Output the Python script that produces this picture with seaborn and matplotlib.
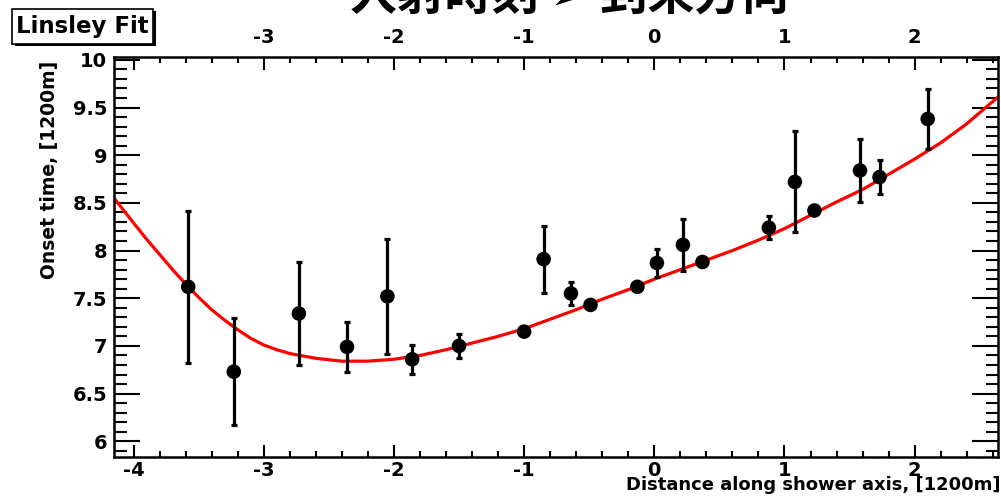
import numpy as np
import pandas as pd
import seaborn as sns
import matplotlib.pyplot as plt
from matplotlib.patches import Rectangle
from matplotlib.ticker import MultipleLocator, FixedLocator

sns.set_style('ticks')
plt.rcParams['font.family'] = ['DejaVu Sans']
plt.rcParams['axes.unicode_minus'] = False
plt.rcParams['text.color'] = 'black'
plt.rcParams['xtick.color'] = 'black'
plt.rcParams['ytick.color'] = 'black'

# measured points: distance along shower axis, onset time, error
dist = [-3.58, -3.23, -2.73, -2.36, -2.05, -1.86, -1.50, -1.00, -0.85, -0.64, -0.49,
        -0.13, 0.02, 0.22, 0.37, 0.88, 1.08, 1.23, 1.58, 1.73, 2.10]
onset = [7.62, 6.73, 7.34, 6.99, 7.52, 6.86, 7.00, 7.15, 7.91, 7.55, 7.43,
         7.62, 7.87, 8.06, 7.88, 8.24, 8.72, 8.42, 8.84, 8.77, 9.38]
err = [0.80, 0.56, 0.54, 0.26, 0.60, 0.15, 0.13, 0.02, 0.35, 0.12, 0.02,
       0.02, 0.15, 0.27, 0.02, 0.12, 0.53, 0.02, 0.33, 0.18, 0.31]

# Linsley fit curve
fit_x = [-4.15, -4.0, -3.9, -3.8, -3.7, -3.6, -3.5, -3.4, -3.3, -3.2, -3.1, -3.0,
         -2.9, -2.8, -2.6, -2.4, -2.2, -2.0, -1.8, -1.6, -1.4, -1.2, -1.0, -0.8,
         -0.6, -0.4, -0.2, 0.0, 0.2, 0.4, 0.6, 0.8, 1.0, 1.2, 1.4, 1.6, 1.8, 2.0,
         2.2, 2.4, 2.64]
fit_y = [8.55, 8.29, 8.12, 7.96, 7.80, 7.65, 7.51, 7.38, 7.27, 7.17, 7.08, 7.01,
         6.96, 6.92, 6.87, 6.84, 6.84, 6.86, 6.90, 6.96, 7.03, 7.10, 7.18, 7.28,
         7.38, 7.49, 7.59, 7.70, 7.80, 7.90, 8.00, 8.11, 8.23, 8.37, 8.51, 8.64,
         8.80, 8.96, 9.13, 9.33, 9.61]

top_ticks = [-3, -2, -1, 0, 1, 2]

pts = pd.DataFrame({'dist': dist, 'onset': onset, 'err': err})
fit = pd.DataFrame({'x': fit_x, 'y': fit_y})

W, H = 1001, 503
fig = plt.figure(figsize=(W / 100, H / 100), dpi=100)
ax = fig.add_axes([114 / W, 1 - 457 / H, (998 - 114) / W, (457 - 57) / H])

sns.lineplot(data=fit, x='x', y='y', color='red', lw=2.3, ax=ax, zorder=2)
ax.errorbar(pts['dist'], pts['onset'], yerr=pts['err'], fmt='none', ecolor='black',
            elinewidth=2.3, capsize=2, capthick=2.3, zorder=3)
sns.scatterplot(data=pts, x='dist', y='onset', color='black', s=110,
                edgecolor='none', ax=ax, zorder=4)

ax.set_xlim(-4.15, 2.64)
ax.set_ylim(5.835, 10.03)
ax.set_xlabel('')
ax.set_ylabel('')

fmt = plt.FuncFormatter(lambda v, p: f'{v:g}')
ax.xaxis.set_major_locator(MultipleLocator(1))
ax.xaxis.set_minor_locator(MultipleLocator(0.2))
ax.yaxis.set_major_locator(MultipleLocator(0.5))
ax.yaxis.set_minor_locator(MultipleLocator(0.1))
ax.xaxis.set_major_formatter(fmt)
ax.yaxis.set_major_formatter(fmt)

ax.tick_params(axis='both', which='both', direction='in', width=1.5, color='black',
               labelsize=14)
ax.tick_params(axis='x', which='both', top=True, labeltop=False, bottom=True, labelbottom=True)
ax.tick_params(axis='x', which='major', length=9, pad=3)
ax.tick_params(axis='x', which='minor', length=4.5)
ax.tick_params(axis='y', which='both', left=True, right=True, labelright=False)
ax.tick_params(axis='y', which='major', length=19, pad=5)
ax.tick_params(axis='y', which='minor', length=9)

# labels along the top edge (ticks already drawn by the main axes)
sec = ax.secondary_xaxis('top')
sec.xaxis.set_major_locator(FixedLocator(top_ticks))
sec.xaxis.set_major_formatter(fmt)
sec.tick_params(axis='x', which='major', direction='in', length=0, pad=7, labelsize=14)
sec.spines['top'].set_visible(False)
for lab in sec.get_xticklabels():
    lab.set_fontweight('bold')

for t in ax.xaxis.get_major_ticks() + ax.yaxis.get_major_ticks():
    t.label1.set_fontweight('bold')
for s in ax.spines.values():
    s.set_linewidth(1.8)
    s.set_color('black')

fig.text(50 / W, 1 - 61 / H, 'Onset time, [1200m]', rotation=90, ha='center', va='top',
         fontsize=13.5, fontweight='bold')
fig.text(1000 / W, 1 - 485 / H, 'Distance along shower axis, [1200m]', ha='right',
         va='center', fontsize=13, fontweight='bold')

# title box with shadow
fig.patches.append(Rectangle((15 / W, 1 - 46 / H), 141 / W, 35 / H, transform=fig.transFigure,
                             facecolor='black', edgecolor='none', zorder=1))
fig.patches.append(Rectangle((12 / W, 1 - 44 / H), 141 / W, 35 / H, transform=fig.transFigure,
                             facecolor='white', edgecolor='black', lw=1.2, zorder=2))
fig.text(82 / W, 1 - 27 / H, 'Linsley Fit', ha='center', va='center', fontsize=16.5,
         fontweight='bold', zorder=3)

fig.text(570 / W, 1 - 20 / H, '入射時刻 ➢ 到来方向', ha='center', va='bottom', fontsize=34,
         fontweight='bold', family=['Noto Sans CJK JP', 'DejaVu Sans'])

fig.savefig('out.png', dpi=100)
